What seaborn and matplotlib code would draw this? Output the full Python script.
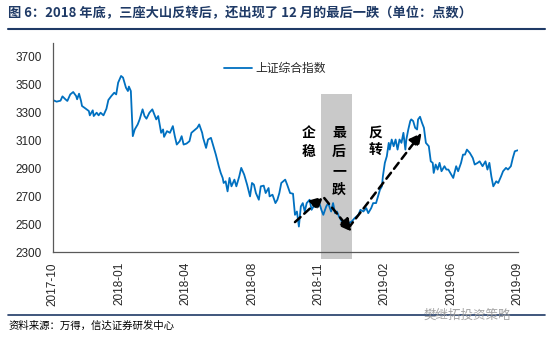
import matplotlib
matplotlib.use("Agg")
import matplotlib.pyplot as plt
import seaborn as sns
import pandas as pd
from matplotlib.patches import Rectangle

sns.set_theme(style="white")
plt.rcParams['font.family'] = ['Liberation Sans', 'Noto Sans CJK SC', 'DejaVu Sans']

title = "图 6：2018 年底，三座大山反转后，还出现了 12 月的最后一跌（单位：点数）"
source = "资料来源：万得，信达证券研发中心"
series_name = "上证综合指数"

# trading-day index and Shanghai Composite close
day_idx = [0, 4, 8, 10, 13, 15, 18, 21, 24, 25, 27, 29, 30, 33, 37, 38, 41, 42, 45, 47,
           49, 52, 55, 57, 60, 63, 65, 67, 70, 72, 75, 77, 78, 80, 82, 84, 87, 89, 92, 94,
           96, 99, 102, 104, 106, 108, 111, 113, 114, 117, 120, 123, 125, 127, 130, 132, 134, 137, 140, 142,
           146, 148, 150, 153, 154, 157, 159, 162, 164, 167, 170, 172, 174, 175, 177, 179, 181, 183, 186, 188,
           191, 193, 196, 199, 202, 204, 206, 208, 211, 213, 216, 218, 221, 222, 225, 228, 230, 232, 234, 238,
           240, 243, 246, 248, 250, 252, 254, 256, 258, 260, 263, 265, 268, 270, 273, 275, 277, 280, 282, 285,
           287, 289, 291, 293, 296, 298, 300, 303, 306, 309, 313, 315, 318, 321, 323, 326, 328, 331, 333, 335,
           337, 338, 340, 342, 344, 345, 347, 349, 351, 353, 355, 357, 359, 361, 362, 364, 366, 367, 369, 371,
           373, 374, 376, 378, 380, 382, 385, 387, 389, 390, 392, 394, 396, 398, 401, 403, 405, 407, 410, 413,
           415, 418, 420, 422, 424, 427, 430, 432, 435, 437, 440, 443, 445, 447, 449, 451, 454, 456, 459, 461,
           464, 466, 469, 471, 473, 476]
sse_close = [3390, 3378, 3385, 3416, 3395, 3383, 3430, 3447, 3418, 3395, 3435, 3383, 3347, 3332, 3311, 3280, 3316, 3275, 3299, 3280,
             3299, 3280, 3327, 3390, 3418, 3442, 3430, 3514, 3562, 3550, 3478, 3454, 3486, 3454, 3131, 3179, 3215, 3251, 3323, 3275,
             3256, 3299, 3323, 3287, 3251, 3275, 3155, 3179, 3126, 3167, 3155, 3203, 3131, 3071, 3095, 3131, 3071, 3078, 3095, 3155,
             3179, 3191, 3215, 3155, 3119, 3047, 3107, 3119, 3071, 2999, 2916, 2868, 2832, 2796, 2808, 2736, 2832, 2772, 2820, 2772,
             2844, 2904, 2856, 2784, 2700, 2796, 2784, 2724, 2676, 2772, 2777, 2724, 2760, 2700, 2712, 2652, 2676, 2724, 2796, 2820,
             2784, 2724, 2719, 2568, 2592, 2484, 2628, 2652, 2592, 2652, 2676, 2604, 2640, 2676, 2652, 2604, 2568, 2628, 2652, 2592,
             2652, 2580, 2592, 2556, 2520, 2508, 2484, 2508, 2520, 2544, 2568, 2604, 2592, 2616, 2580, 2616, 2652, 2652, 2700, 2748,
             2772, 2844, 2940, 2987, 3083, 3035, 3107, 3059, 3107, 3035, 3107, 3083, 3155, 3035, 3107, 3179, 3239, 3251, 3239, 3191,
             3179, 3251, 3270, 3227, 3191, 3083, 3059, 2951, 2940, 2868, 2928, 2892, 2940, 2880, 2916, 2892, 2892, 2868, 2832, 2916,
             2880, 2940, 2999, 2999, 3035, 3011, 2975, 2928, 2940, 2951, 2916, 2951, 2892, 2940, 2844, 2772, 2808, 2796, 2844, 2880,
             2904, 2892, 2916, 2975, 3023, 3030]

tick_pos = [0, 68, 136, 204, 272, 340, 408, 476]
tick_labels = ["2017-10", "2018-01", "2018-04", "2018-08", "2018-11", "2019-02", "2019-06", "2019-09"]
y_ticks = [2300, 2500, 2700, 2900, 3100, 3300, 3500, 3700]

# annotation data
band_range = (274.7, 306.4)
band_vals = (2250, 3435)
arrows = [((248, 2516), (277, 2700)),
          ((278, 2688), (306, 2448)),
          ((302.6, 2472), (377.7, 3155))]
labels = [("企\n稳", 262, 3085), ("最\n后\n一\n跌", 293, 2951), ("反\n转", 330.6, 3090)]

df = pd.DataFrame({"idx": day_idx, "val": sse_close, "name": series_name})

fig = plt.figure(figsize=(5.5, 3.38), dpi=100)
ax = fig.add_axes([0.0958, 0.2536, 0.8455, 0.6201])

ax.add_patch(Rectangle((band_range[0], band_vals[0]), band_range[1] - band_range[0],
                       band_vals[1] - band_vals[0], facecolor="#c9c9c9", edgecolor="none",
                       clip_on=False, zorder=0))

sns.lineplot(data=df, x="idx", y="val", hue="name", palette=["#0070C0"], linewidth=1.3, ax=ax, zorder=2)

for (x0, y0), (x1, y1) in arrows:
    ax.annotate("", xy=(x1, y1), xytext=(x0, y0),
                arrowprops=dict(arrowstyle="-|>,head_length=0.6,head_width=0.3", linestyle=(0, (3, 2)),
                                lw=1.8, color="black", shrinkA=0, shrinkB=0), zorder=3)

for txt, x, y in labels:
    ax.text(x, y, txt, ha="center", va="center", fontsize=10, fontweight="bold",
            family=["Noto Sans CJK SC"], linespacing=1.45, color="black", zorder=4)

ax.set_xlim(0, 476)
ax.set_ylim(2300, 3800)
ax.set_yticks(y_ticks)
ax.set_yticklabels([str(v) for v in y_ticks], fontsize=8.5)
ax.set_xticks(tick_pos)
ax.set_xticklabels(tick_labels, rotation=90, fontsize=8.5)
ax.tick_params(axis="x", direction="in", length=4, width=0.8, color="#595959", pad=7)
ax.tick_params(axis="y", direction="out", length=4, width=0.8, color="#595959", pad=4)
ax.set_xlabel("")
ax.set_ylabel("")
for s in ["top", "right"]:
    ax.spines[s].set_visible(False)
for s in ["left", "bottom"]:
    ax.spines[s].set_color("#595959")
    ax.spines[s].set_linewidth(0.9)

leg = ax.legend(loc="center", bbox_to_anchor=(0.478, 0.876), frameon=False, handlelength=2.3,
                handletextpad=0.3, prop={"family": "Noto Sans CJK SC", "size": 8.5})
for line in leg.get_lines():
    line.set_linewidth(1.3)

navy = "#1F3A66"
fig.text(0.015, 0.962, title, fontsize=9.5, fontweight="bold", color=navy,
         family=["Noto Sans CJK SC"], ha="left", va="center")
fig.add_artist(plt.Line2D([0.015, 0.99], [0.913, 0.913], color=navy, lw=1.5))
fig.add_artist(plt.Line2D([0.015, 0.99], [0.068, 0.068], color=navy, lw=1.2))
fig.text(0.015, 0.035, source, fontsize=7.5, color="black", family=["Noto Sans CJK SC"],
         ha="left", va="center")
fig.text(0.77, 0.068, "樊继拓投资策略", fontsize=9, color="#9a9a9a", family=["Noto Sans CJK SC"],
         ha="left", va="center", alpha=0.9)

fig.savefig("out.png", dpi=100)
